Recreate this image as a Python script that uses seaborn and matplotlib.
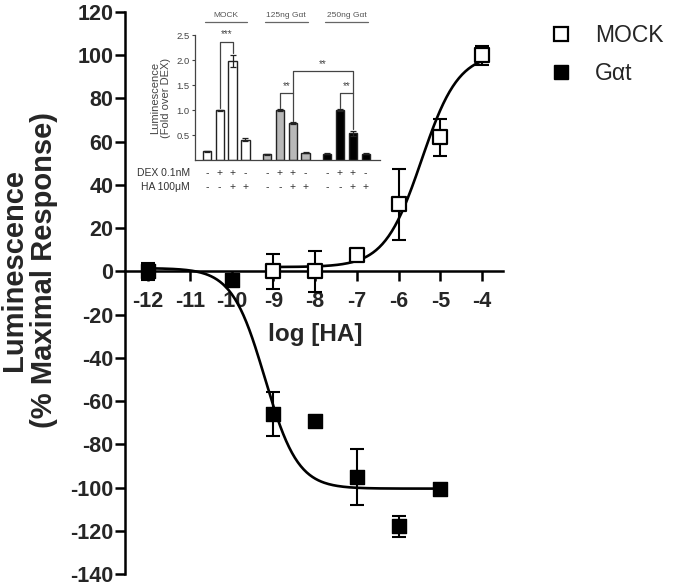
import numpy as np
import pandas as pd
import seaborn as sns
import matplotlib
matplotlib.use("Agg")
from matplotlib import pyplot as plt
from matplotlib.lines import Line2D

# main dose-response data (log [HA], % maximal response, sem)
mock_logx = [-9, -8, -7, -6, -5, -4]
mock_mean = [0, 0, 7.5, 31, 62, 100]
mock_sem = [8, 9.5, 2, 16.5, 8.5, 4.5]

gat_logx = [-12, -10, -9, -8, -7, -6, -5]
gat_mean = [0, -4, -66, -69, -95, -118, -100.5]
gat_sem = [4, 1, 10, 1, 13, 5, 1]

# fitted sigmoid parameters: low plateau, high plateau, logEC50, hill
mock_fit = (2, 101, -5.45, 0.98)
gat_fit = (1.5, -100.5, -9.2, 1.1)
mock_range = (-9, -4)
gat_range = (-12, -5)

# inset bar data
inset_groups = ['MOCK', '125ng Gαt', '250ng Gαt']
inset_values = [[0.18, 1.0, 1.99, 0.41],
                [0.12, 1.0, 0.74, 0.145],
                [0.13, 1.0, 0.54, 0.13]]
inset_errors = [[0.01, 0.01, 0.12, 0.03],
                [0.01, 0.02, 0.02, 0.01],
                [0.01, 0.02, 0.05, 0.01]]
dex_signs = ['-', '+', '+', '-']
ha_signs = ['-', '-', '+', '+']


def sigmoid(x, lo, hi, ec50, hill):
    return lo + (hi - lo) / (1 + 10 ** ((ec50 - x) * hill))


sns.set_theme(style="ticks")
plt.rcParams['font.family'] = ['Liberation Sans', 'DejaVu Sans']
plt.rcParams['axes.unicode_minus'] = False

fig = plt.figure(figsize=(6.75, 5.88), dpi=100)
ax = fig.add_axes([125 / 675, 1 - 574 / 588, (503 - 125) / 675, (574 - 12) / 588])

# fitted curves
xs = np.linspace(*mock_range, 200)
curve_mock = pd.DataFrame({'x': xs, 'y': sigmoid(xs, *mock_fit)})
xs = np.linspace(*gat_range, 200)
curve_gat = pd.DataFrame({'x': xs, 'y': sigmoid(xs, *gat_fit)})
sns.lineplot(data=curve_mock, x='x', y='y', ax=ax, color='black', lw=1.9, zorder=2)
sns.lineplot(data=curve_gat, x='x', y='y', ax=ax, color='black', lw=1.9, zorder=2)

# error bars
ax.errorbar(mock_logx, mock_mean, yerr=mock_sem, fmt='none', ecolor='black',
            elinewidth=1.5, capsize=4.7, capthick=1.5, zorder=3)
ax.errorbar(gat_logx, gat_mean, yerr=gat_sem, fmt='none', ecolor='black',
            elinewidth=1.5, capsize=4.7, capthick=1.5, zorder=3)

# points
df_mock = pd.DataFrame({'x': mock_logx, 'y': mock_mean})
df_gat = pd.DataFrame({'x': gat_logx, 'y': gat_mean})
sns.scatterplot(data=df_mock, x='x', y='y', ax=ax, marker='s', s=95,
                facecolor='white', edgecolor='black', linewidth=1.6, zorder=4)
sns.scatterplot(data=df_gat, x='x', y='y', ax=ax, marker='s', s=90,
                facecolor='black', edgecolor='black', linewidth=1.0, zorder=4)

ax.set_xlim(-12.55, -3.5)
ax.set_ylim(-140, 120)
ax.set_xticks(range(-12, -3))
ax.set_yticks(range(-140, 121, 20))
ax.spines['top'].set_visible(False)
ax.spines['right'].set_visible(False)
ax.spines['bottom'].set_position(('data', 0))
for s in ['left', 'bottom']:
    ax.spines[s].set_linewidth(1.8)
    ax.spines[s].set_color('black')
ax.tick_params(axis='both', width=1.8, length=7, labelsize=15.5, color='black')
ax.tick_params(axis='y', pad=1.5)
ax.tick_params(axis='x', pad=7)
for lab in ax.get_xticklabels() + ax.get_yticklabels():
    lab.set_fontweight('bold')

ax.set_xlabel('log [HA]', fontsize=17.5, fontweight='bold')
ax.xaxis.set_label_coords(0.503, 0.447)
ax.set_ylabel('Luminescence\n(% Maximal Response)', fontsize=21, fontweight='bold',
              linespacing=1.1)
ax.yaxis.set_label_coords(-0.177, 0.541)

handles = [Line2D([], [], marker='s', ls='none', markersize=10, markerfacecolor='white',
                  markeredgecolor='black', markeredgewidth=1.6),
           Line2D([], [], marker='s', ls='none', markersize=10, markerfacecolor='black',
                  markeredgecolor='black')]
fig.legend(handles, ['MOCK', 'Gαt'], loc='upper left', bbox_to_anchor=(0.783, 0.994),
           frameon=False, fontsize=16.5, handletextpad=1.0, labelspacing=0.65,
           handlelength=1.0)

# inset bar chart
ax_in = fig.add_axes([195 / 675, 1 - 160 / 588, (380 - 195) / 675, (160 - 35) / 588])
group_gap = 4.67
rows = []
for g, name in enumerate(inset_groups):
    for i in range(4):
        rows.append({'pos': g * group_gap + i, 'group': name,
                     'value': inset_values[g][i], 'err': inset_errors[g][i]})
df_in = pd.DataFrame(rows)
sns.barplot(data=df_in, x='pos', y='value', hue='group', native_scale=True,
            palette=['white', '#b8b8b8', 'black'], edgecolor='#222222', linewidth=1.0,
            width=0.65, dodge=False, legend=False, ax=ax_in)
ax_in.errorbar(df_in['pos'], df_in['value'], yerr=df_in['err'], fmt='none',
               ecolor='#222222', elinewidth=0.9, capsize=2, capthick=0.9)

ax_in.set_xlim(-0.92, 13.45)
ax_in.set_ylim(0, 2.5)
ax_in.set_yticks([0.5, 1.0, 1.5, 2.0, 2.5])
ax_in.set_xticks([])
ax_in.set_xlabel('')
ax_in.set_ylabel('Luminescence\n(Fold over DEX)', fontsize=8, color='#444444', linespacing=1.1)
ax_in.spines['top'].set_visible(False)
ax_in.spines['right'].set_visible(False)
for s in ['left', 'bottom']:
    ax_in.spines[s].set_color('#444444')
    ax_in.spines[s].set_linewidth(0.9)
ax_in.tick_params(axis='y', labelsize=6.8, colors='#444444', length=2.5, width=0.8, pad=1.5)
ax_in.patch.set_alpha(0)

trans = ax_in.get_xaxis_transform()
for g, name in enumerate(inset_groups):
    x0 = g * group_gap
    ax_in.text(x0 + 1.5, 1.13, name, transform=trans, ha='center', va='bottom',
               fontsize=6, color='#555555')
    ax_in.plot([x0 - 0.15, x0 + 3.15], [1.104, 1.104], transform=trans, color='#666666',
               lw=0.9, clip_on=False)
    for i in range(4):
        ax_in.text(x0 + i, -0.104, dex_signs[i], transform=trans, ha='center', va='center',
                   fontsize=7.5, color='#333333')
        ax_in.text(x0 + i, -0.216, ha_signs[i], transform=trans, ha='center', va='center',
                   fontsize=7.5, color='#333333')
ax_in.text(-0.027, -0.104, 'DEX 0.1nM', transform=ax_in.transAxes, ha='right', va='center',
           fontsize=7.5, color='#333333')
ax_in.text(-0.027, -0.216, 'HA 100μM', transform=ax_in.transAxes, ha='right', va='center',
           fontsize=7.5, color='#333333')

# significance brackets
bk = dict(color='#444444', lw=0.9, clip_on=False)
ax_in.plot([1, 1, 2, 2], [1.05, 2.37, 2.37, 2.14], **bk)
ax_in.text(1.5, 2.42, '***', ha='center', va='bottom', fontsize=7, color='#444444')
g1 = group_gap
g2 = 2 * group_gap
ax_in.plot([g1 + 1, g1 + 1, g1 + 2, g1 + 2], [1.05, 1.34, 1.34, 0.79], **bk)
ax_in.text(g1 + 1.5, 1.37, '**', ha='center', va='bottom', fontsize=7, color='#444444')
ax_in.plot([g2 + 1, g2 + 1, g2 + 2, g2 + 2], [1.05, 1.34, 1.34, 0.62], **bk)
ax_in.text(g2 + 1.5, 1.37, '**', ha='center', va='bottom', fontsize=7, color='#444444')
ax_in.plot([g1 + 2, g1 + 2, g2 + 2, g2 + 2], [1.34, 1.78, 1.78, 1.34], **bk)
ax_in.text((g1 + g2) / 2 + 2, 1.81, '**', ha='center', va='bottom', fontsize=7, color='#444444')

fig.savefig('out.png', dpi=100)
